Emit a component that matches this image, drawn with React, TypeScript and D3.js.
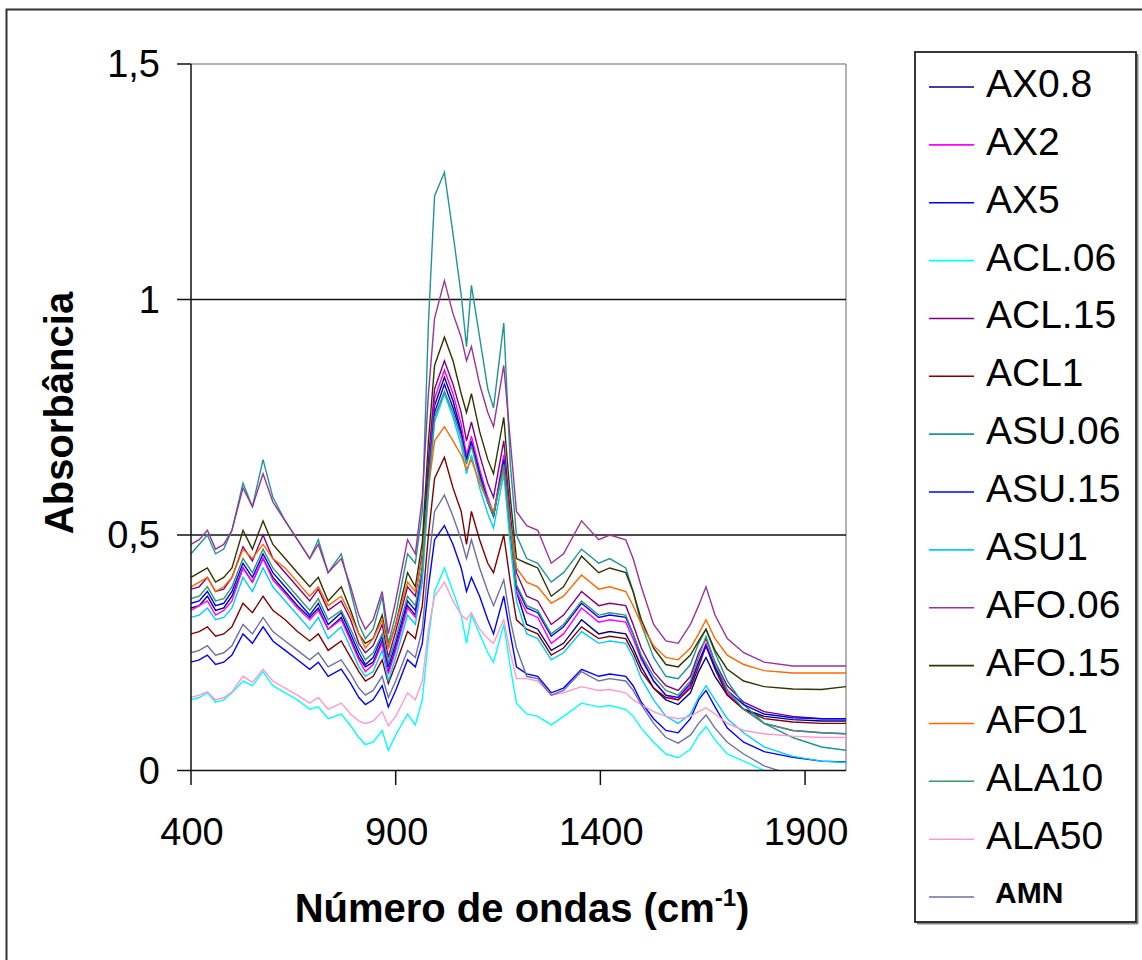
import React from 'react';
import * as d3 from 'd3';

// Wavenumber sample positions (cm-1)
const wavenumbers = [
  400, 420, 440, 460, 480, 500, 527, 550, 576, 600, 630, 660, 690, 711, 735, 767, 790, 810, 826, 845,
  867, 882, 900, 929, 948, 965, 980, 995, 1019, 1040, 1060, 1073, 1085, 1105, 1125, 1139, 1164, 1180, 1195,
  1220, 1247, 1280, 1310, 1354, 1396, 1423, 1462,
  1480, 1500, 1530, 1560, 1590, 1620, 1640, 1658, 1680, 1710, 1750, 1800, 1870, 1940, 2000,
];

const AX08 = [
  .345, .35, .37, .34, .345, .37, .43, .40, .45, .41, .38, .35, .325, .345, .30, .325, .28, .24, .22, .23, .275, .21, .26, .35, .33,
  .42, .62, .775, .835, .785, .72, .66, .70, .63, .57, .54, .66, .51, .38,
  .31, .30, .255, .27, .32, .29, .295, .29,
  .26, .22, .175, .15, .14, .165, .21, .24, .20, .16, .13, .115, .108, .105, .105,
];
const AX2 = [
  .34, .35, .36, .33, .34, .36, .43, .40, .45, .405, .375, .345, .32, .34, .30, .32, .275, .235, .21, .225, .27, .205, .255, .345, .325,
  .42, .63, .79, .85, .80, .735, .67, .71, .64, .58, .545, .67, .51, .38,
  .335, .325, .27, .29, .345, .315, .32, .315,
  .28, .235, .19, .16, .15, .18, .23, .27, .22, .165, .13, .10, .085, .08, .078,
];
const AX5 = [
  .23, .235, .245, .225, .23, .245, .29, .27, .305, .275, .255, .235, .215, .23, .20, .215, .185, .155, .14, .15, .18, .135, .17, .235, .22,
  .27, .39, .49, .52, .48, .43, .38, .41, .37, .32, .29, .37, .29, .22,
  .205, .20, .165, .175, .215, .20, .205, .20,
  .18, .145, .11, .085, .08, .11, .15, .17, .135, .09, .06, .04, .028, .02, .018,
];
const ACL06 = [
  .15, .155, .165, .145, .15, .165, .19, .18, .21, .18, .165, .15, .13, .135, .11, .12, .095, .07, .055, .06, .085, .043, .075, .12, .097,
  .15, .28, .38, .43, .38, .33, .27, .33, .29, .25, .23, .31, .22, .143,
  .12, .115, .097, .115, .143, .135, .138, .13,
  .115, .09, .06, .035, .027, .045, .075, .093, .065, .035, .02, 0, -.02, -.03, -.035,
];
const ACL15 = [
  .385, .39, .41, .38, .385, .41, .475, .445, .50, .45, .42, .39, .36, .385, .34, .36, .32, .27, .25, .265, .31, .24, .295, .39, .37,
  .46, .66, .81, .87, .82, .76, .70, .74, .67, .61, .58, .70, .545, .42,
  .37, .36, .31, .33, .38, .35, .355, .35,
  .31, .26, .21, .18, .17, .20, .25, .28, .23, .18, .145, .125, .115, .11, .11,
];
const ACL1 = [
  .29, .295, .305, .285, .29, .305, .355, .335, .37, .34, .32, .295, .275, .29, .255, .275, .24, .21, .19, .20, .235, .185, .225, .295, .28,
  .35, .50, .62, .665, .60, .55, .48, .55, .49, .44, .42, .50, .40, .32,
  .30, .29, .245, .26, .305, .28, .285, .28,
  .25, .21, .175, .155, .15, .175, .22, .265, .215, .16, .13, .11, .103, .10, .10,
];
const ASU06 = [
  .46, .48, .50, .46, .47, .51, .61, .56, .66, .58, .53, .49, .45, .49, .42, .46, .38, .31, .28, .30, .37, .27, .33, .46, .44,
  .55, .95, 1.22, 1.27, 1.14, 1.01, .90, 1.03, .92, .81, .77, .95, .65, .50,
  .45, .44, .40, .42, .47, .44, .45, .43,
  .38, .31, .24, .20, .195, .225, .27, .30, .25, .19, .14, .10, .07, .05, .043,
];
const ASU15 = [
  .355, .36, .38, .35, .355, .38, .44, .41, .46, .42, .39, .36, .33, .355, .31, .335, .29, .25, .225, .24, .285, .22, .27, .36, .34,
  .43, .62, .76, .82, .77, .715, .66, .695, .63, .57, .54, .66, .51, .39,
  .345, .335, .285, .305, .355, .325, .33, .325,
  .29, .24, .19, .16, .155, .185, .23, .265, .22, .17, .14, .12, .112, .11, .11,
];
const ASU1 = [
  .325, .33, .345, .32, .325, .345, .41, .38, .43, .39, .36, .33, .30, .325, .28, .305, .26, .22, .20, .21, .255, .19, .24, .33, .31,
  .40, .59, .74, .80, .75, .69, .63, .67, .60, .545, .515, .63, .48, .36,
  .29, .28, .235, .25, .295, .27, .275, .27,
  .24, .195, .15, .115, .10, .12, .155, .18, .15, .11, .08, .05, .03, .02, .017,
];
const AFO06 = [
  .48, .49, .51, .47, .48, .51, .60, .56, .63, .57, .53, .49, .45, .48, .42, .45, .39, .33, .30, .32, .38, .29, .36, .49, .46,
  .58, .80, .96, 1.04, .97, .92, .87, .90, .82, .76, .73, .86, .70, .55,
  .52, .51, .44, .46, .53, .49, .50, .49,
  .45, .39, .31, .275, .27, .31, .35, .39, .33, .28, .25, .23, .222, .222, .222,
];
const AFO15 = [
  .41, .42, .43, .40, .41, .43, .51, .47, .53, .48, .45, .42, .39, .41, .36, .39, .34, .29, .27, .28, .33, .26, .31, .42, .39,
  .485, .70, .86, .92, .87, .80, .76, .80, .72, .66, .63, .75, .58, .45,
  .44, .43, .37, .39, .455, .42, .43, .42,
  .38, .32, .26, .225, .22, .245, .275, .30, .255, .215, .19, .178, .173, .172, .178,
];
const AFO1 = [
  .39, .40, .41, .38, .39, .41, .47, .45, .48, .45, .43, .40, .37, .39, .35, .37, .33, .29, .26, .28, .32, .26, .31, .40, .38,
  .45, .60, .70, .73, .70, .67, .64, .66, .61, .57, .55, .64, .52, .43,
  .40, .39, .355, .37, .415, .385, .39, .38,
  .35, .31, .265, .24, .235, .26, .29, .32, .28, .245, .225, .212, .207, .207, .207,
];
const ALA10 = [
  .365, .37, .39, .36, .365, .39, .45, .42, .47, .43, .40, .37, .34, .365, .32, .34, .30, .26, .235, .25, .29, .23, .28, .37, .35,
  .43, .61, .75, .805, .76, .705, .65, .69, .62, .57, .54, .65, .51, .395,
  .35, .34, .29, .31, .36, .33, .335, .33,
  .29, .245, .20, .17, .16, .19, .24, .285, .23, .17, .13, .10, .085, .08, .078,
];
const ALA50 = [
  .155, .16, .167, .15, .155, .167, .20, .187, .215, .19, .175, .16, .143, .155, .13, .143, .12, .105, .10, .105, .125, .095, .115, .165, .15,
  .19, .30, .37, .40, .36, .33, .32, .335, .30, .28, .27, .32, .25, .195,
  .195, .19, .16, .165, .178, .17, .172, .165,
  .15, .14, .125, .115, .11, .115, .125, .133, .12, .10, .085, .078, .073, .07, .07,
];
const AMN = [
  .25, .255, .265, .245, .25, .265, .31, .29, .325, .295, .275, .255, .235, .25, .22, .235, .205, .175, .16, .17, .20, .155, .19, .255, .24,
  .30, .44, .55, .585, .54, .49, .45, .49, .43, .38, .35, .405, .32, .26,
  .20, .195, .16, .17, .21, .19, .195, .19,
  .17, .14, .10, .07, .058, .075, .10, .118, .09, .06, .035, .01, -.01, -.02, -.025,
];

const seriesNames = ['AX0.8', 'AX2', 'AX5', 'ACL.06', 'ACL.15', 'ACL1', 'ASU.06', 'ASU.15', 'ASU1', 'AFO.06', 'AFO.15', 'AFO1', 'ALA10', 'ALA50', 'AMN'];
const seriesValues = [AX08, AX2, AX5, ACL06, ACL15, ACL1, ASU06, ASU15, ASU1, AFO06, AFO15, AFO1, ALA10, ALA50, AMN];
const seriesColors = ['#000080', '#FF00FF', '#0000FF', '#00FFFF', '#800080', '#800000', '#1F9494', '#0000FF', '#00CCFF', '#993399', '#333300', '#FF6600', '#339966', '#FF99CC', '#6F6FA3'];

const xTicks = [400, 900, 1400, 1900];
const yTicks = [0, 0.5, 1, 1.5];
const yTickLabels = ['0', '0,5', '1', '1,5'];
const yGrid = [0.5, 1];

const FONT = '"Liberation Sans", Arial, sans-serif';

export default function App() {
  const left = 191, right = 846, top = 64, bottom = 770.5;
  const x = d3.scaleLinear().domain([400, 2000]).range([left, right]);
  const y = d3.scaleLinear().domain([0, 1.5]).range([bottom, top]);
  const line = d3.line<number>().x((_, i) => x(wavenumbers[i])).y((v) => y(v));

  const legX = 915, legY = 52, legW = 221, legH = 870;
  const rowY0 = 87, rowStep = 57.86;

  return (
    <svg width={1142} height={960} style={{ position: 'absolute', left: 0, top: 0, background: '#fff' }} fontFamily={FONT}>
      <rect x={0} y={0} width={1142} height={960} fill="#fff" />
      {/* outer chart frame */}
      <rect x={6.5} y={9.5} width={1200} height={1000} fill="none" stroke="#333" strokeWidth={2} />
      <defs>
        <clipPath id="plotClip">
          <rect x={left} y={top} width={right - left} height={bottom - top} />
        </clipPath>
      </defs>
      {/* plot border (top/right gray) */}
      <line x1={left} x2={right} y1={top} y2={top} stroke="#999" strokeWidth={1.5} />
      <line x1={right} x2={right} y1={top} y2={bottom} stroke="#999" strokeWidth={1.5} />
      {/* gridlines */}
      {yGrid.map((g) => (
        <line key={g} x1={left} x2={right} y1={y(g)} y2={y(g)} stroke="#111" strokeWidth={1.5} />
      ))}
      {/* series */}
      <g clipPath="url(#plotClip)">
        {seriesValues.map((vals, i) => (
          <path key={seriesNames[i]} d={line(vals) || ''} fill="none" stroke={seriesColors[i]} strokeWidth={1.4} strokeLinejoin="miter" />
        ))}
      </g>
      {/* axes */}
      <line x1={left} x2={left} y1={top} y2={bottom} stroke="#111" strokeWidth={1.5} />
      <line x1={left} x2={right} y1={bottom} y2={bottom} stroke="#111" strokeWidth={1.5} />
      {yTicks.map((t, i) => (
        <g key={t}>
          <line x1={177} x2={left} y1={y(t)} y2={y(t)} stroke="#111" strokeWidth={1.5} />
          <text x={160} y={y(t) + 13} textAnchor="end" fontSize={38} fill="#000">{yTickLabels[i]}</text>
        </g>
      ))}
      {xTicks.map((t) => (
        <g key={t}>
          <line x1={x(t)} x2={x(t)} y1={bottom} y2={bottom + 14.5} stroke="#111" strokeWidth={1.5} />
          <text x={x(t) + 1} y={845} textAnchor="middle" fontSize={38} fill="#000">{t}</text>
        </g>
      ))}
      {/* axis titles */}
      <text x={522} y={922} textAnchor="middle" fontSize={40} fontWeight="bold" fill="#000">
        Número de ondas (cm<tspan dy={-16} fontSize={24}>-1</tspan><tspan dy={16}>)</tspan>
      </text>
      <text transform="translate(73,413) rotate(-90)" textAnchor="middle" fontSize={40} fontWeight="bold" fill="#000">Absorbância</text>
      {/* legend */}
      <line x1={legX + 2} x2={legX + legW + 2} y1={legY + legH + 1.5} y2={legY + legH + 1.5} stroke="#888" strokeWidth={2} />
      <line x1={legX + legW + 1.5} x2={legX + legW + 1.5} y1={legY + 2} y2={legY + legH + 2} stroke="#888" strokeWidth={2} />
      <rect x={legX} y={legY} width={legW} height={legH} fill="#fff" stroke="#222" strokeWidth={1.8} />
      {seriesNames.map((n, i) => {
        const cy = rowY0 + i * rowStep;
        const isLast = n === 'AMN';
        return (
          <g key={n}>
            <line x1={929} x2={974} y1={cy} y2={cy} stroke={seriesColors[i]} strokeWidth={1.6} />
            <text x={isLast ? 995 : 986} y={cy + (isLast ? 6 : 10)} fontSize={isLast ? 30 : 39} fontWeight={isLast ? 'bold' : 'normal'} fill="#000">{n}</text>
          </g>
        );
      })}
    </svg>
  );
}
